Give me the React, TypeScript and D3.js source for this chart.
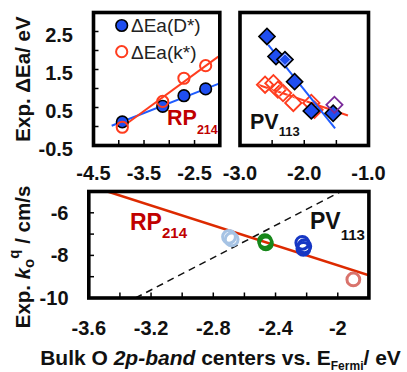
import React from "react";
import * as d3 from "d3";

// panel (a): RP214, ΔEa vs O 2p-band centre
const rpX = [-3.93, -3.13, -2.71, -2.28];
const rpDstar = [0.12, 0.53, 0.81, 0.99];
const rpKstar = [-0.02, 0.66, 1.27, 1.6];
const rpFitD = [[-4.14, 0.02], [-2.03, 1.12]];
const rpFitK = [[-3.94, -0.02], [-2.03, 1.84]];

// panel (b): PV113
const pvDX = [-2.58, -2.44, -2.3, -2.15, -1.89, -1.55];
const pvDY = [2.37, 1.84, 1.76, 1.18, 0.41, 0.35];
const pvKX = [-2.61, -2.48, -2.41, -2.33, -2.17, -1.89, -1.84];
const pvKY = [1.1, 1.14, 0.97, 0.88, 0.62, 0.62, 0.44];
const pvExtraX = [-1.53];
const pvExtraY = [0.57];
const pvFitD = [[-2.56, 2.15], [-1.52, -0.05]];
const pvFitK = [[-2.72, 1.1], [-1.32, 0.29]];

// panel (c): k_o^q
const kqX = [-2.699, -2.682, -2.468, -2.462, -2.228, -2.215, -2.221, -1.9];
const kqY = [-7.13, -7.25, -7.33, -7.44, -7.41, -7.57, -7.69, -9.13];
const kqGroup = ["lb", "lb", "gr", "gr", "db", "db", "db", "sa"];
const kqFitRP = [[-3.48, -5.0], [-1.8, -8.93]];
const kqFitPV = [[-3.3, -10], [-1.98, -5]];

const topYTicks = [0, 0.5, 1, 1.5, 2, 2.5];
const topYLabels = [2.5, 1.5, 0.5, -0.5];
const aXTicks = [-4, -3.5, -3, -2.5];
const aXLabels = [-4.5, -3.5, -2.5];
const bXTicks = [-2.5, -2, -1.5];
const bXLabels = [-3, -2, -1];
const cXTicks = [-3.4, -3.2, -3.0, -2.8, -2.6, -2.4, -2.2, -2.0];
const cXLabels = [-3.6, -3.2, -2.8, -2.4, -2];
const cYTicks = [-9, -8, -7, -6];
const cYLabels = [-6, -8, -10];

const FONT = "'Liberation Sans', Arial, Helvetica, sans-serif";
const groupColor: Record<string, string> = {
  lb: "#a6c3e4",
  gr: "#17871a",
  db: "#1637c4",
  sa: "#d9736c",
};

export default function App() {
  const yTop = d3.scaleLinear().domain([-0.5, 3.0]).range([145.5, 12.5]);
  const xA = d3.scaleLinear().domain([-4.5, -2.0]).range([93.5, 219.8]);
  const xB = d3.scaleLinear().domain([-3, -1]).range([240, 368.5]);
  const xC = d3.scaleLinear().domain([-3.6, -1.8]).range([88.8, 368.9]);
  const yC = d3.scaleLinear().domain([-10, -5]).range([298, 191.5]);

  const diamond = d3.symbol().type(d3.symbolSquare).size(130)();
  const line = (pts: number[][], sx: any, sy: any) =>
    d3.line()(pts.map((p) => [sx(p[0]), sy(p[1])]) as [number, number][]) || "";

  const frame = (x0: number, x1: number, y0: number, y1: number) => (
    <rect x={x0} y={y0} width={x1 - x0} height={y1 - y0} fill="none" stroke="#000" strokeWidth={3.6} />
  );

  const tickText = { fontFamily: FONT, fontWeight: 700, fontSize: 20, fill: "#111" } as const;

  return (
    <svg width={407} height={372} style={{ position: "absolute", left: 0, top: 0, background: "#fff" }}>
      <defs>
        <clipPath id="clipA"><rect x={93.5} y={12.5} width={126.3} height={133} /></clipPath>
        <clipPath id="clipB"><rect x={240} y={12.5} width={128.5} height={133} /></clipPath>
        <clipPath id="clipC"><rect x={88.8} y={191.5} width={280.1} height={106.5} /></clipPath>
      </defs>

      {/* ---------- panel a ---------- */}
      <g clipPath="url(#clipA)">
        <path d={line(rpFitD, xA, yTop)} stroke="#1f5cff" strokeWidth={2} fill="none" />
        <path d={line(rpFitK, xA, yTop)} stroke="#ff3d1f" strokeWidth={2} fill="none" />
        {rpX.map((x, i) => (
          <circle key={"d" + i} cx={xA(x)} cy={yTop(rpDstar[i])} r={5.8} fill="#1f4ef0" stroke="#000" strokeWidth={1.6} />
        ))}
        {rpX.map((x, i) => (
          <circle key={"k" + i} cx={xA(x)} cy={yTop(rpKstar[i])} r={5.6} fill="none" stroke="#ff3d1f" strokeWidth={2} />
        ))}
      </g>
      {topYTicks.map((t) => (
        <line key={t} x1={93.5} x2={98.5} y1={yTop(t)} y2={yTop(t)} stroke="#000" strokeWidth={1.5} />
      ))}
      {aXTicks.map((t) => (
        <line key={t} x1={xA(t)} x2={xA(t)} y1={145.5} y2={140} stroke="#000" strokeWidth={1.5} />
      ))}
      {frame(93.5, 219.8, 12.5, 145.5)}
      {topYLabels.map((t) => (
        <text key={t} x={73} y={yTop(t) + 10} textAnchor="end" {...tickText}>{t.toFixed(1)}</text>
      ))}
      {aXLabels.map((t) => (
        <text key={t} x={xA(t)} y={180} textAnchor="middle" {...tickText}>{t.toFixed(1)}</text>
      ))}

      {/* legend */}
      <circle cx={121.7} cy={25.5} r={5.8} fill="#1f4ef0" stroke="#000" strokeWidth={1.6} />
      <text x={131} y={32} fontFamily={FONT} fontSize={19} fill="#222">ΔEa(D*)</text>
      <circle cx={121.7} cy={51.7} r={5.6} fill="none" stroke="#ff3d1f" strokeWidth={2} />
      <text x={131} y={58.5} fontFamily={FONT} fontSize={19} fill="#222">ΔEa(k*)</text>

      <text x={167} y={125} fontFamily={FONT} fontWeight={700} fontSize={21.5} fill="#c00000">
        RP<tspan fontSize={12.5} dy={9}>214</tspan>
      </text>

      {/* ---------- panel b ---------- */}
      <g clipPath="url(#clipB)">
        <path d={line(pvFitK, xB, yTop)} stroke="#ff3d1f" strokeWidth={2} fill="none" />
        {pvKX.map((x, i) => (
          <g key={"k" + i} transform={`translate(${xB(x)},${yTop(pvKY[i])}) rotate(45)`}>
            <path d={diamond} fill="none" stroke="#ff3d1f" strokeWidth={2} />
            <path d={diamond} fill="none" stroke="#fff" strokeWidth={0.6} transform="scale(0.8)" />
          </g>
        ))}
        <path d={line(pvFitD, xB, yTop)} stroke="#1f5cff" strokeWidth={2} fill="none" />
        {pvDX.map((x, i) => (
          <g key={"d" + i} transform={`translate(${xB(x)},${yTop(pvDY[i])}) rotate(45)`}>
            <path d={diamond} fill="#1f4ef0" stroke="#000" strokeWidth={1.6} />
            {i === 2 && <path d={diamond} fill="none" stroke="#fff" strokeWidth={1} transform="scale(0.72)" />}
          </g>
        ))}
        {pvExtraX.map((x, i) => (
          <g key={"e" + i} transform={`translate(${xB(x)},${yTop(pvExtraY[i])}) rotate(45)`}>
            <path d={diamond} fill="none" stroke="#7a2a9a" strokeWidth={1.8} />
          </g>
        ))}
      </g>
      {bXTicks.map((t) => (
        <line key={t} x1={xB(t)} x2={xB(t)} y1={145.5} y2={140} stroke="#000" strokeWidth={1.5} />
      ))}
      {frame(240, 368.5, 12.5, 145.5)}
      {bXLabels.map((t) => (
        <text key={t} x={xB(t)} y={180} textAnchor="middle" {...tickText}>{t.toFixed(1)}</text>
      ))}
      <text x={250} y={128.5} fontFamily={FONT} fontWeight={700} fontSize={21.5} fill="#111">
        PV<tspan fontSize={13} dy={7}>113</tspan>
      </text>

      {/* ---------- panel c ---------- */}
      <g clipPath="url(#clipC)">
        <path d={line(kqFitPV, xC, yC)} stroke="#111" strokeWidth={1.5} strokeDasharray="7,5" fill="none" />
        <path d={line(kqFitRP, xC, yC)} stroke="#dd2a00" strokeWidth={2.5} fill="none" />
        {kqX.map((x, i) => (
          <circle key={i} cx={xC(x)} cy={yC(kqY[i])} r={6.4} fill="none" stroke={groupColor[kqGroup[i]]} strokeWidth={3} />
        ))}
      </g>
      {cYTicks.map((t) => (
        <line key={t} x1={88.8} x2={94} y1={yC(t)} y2={yC(t)} stroke="#000" strokeWidth={1.5} />
      ))}
      {cXTicks.map((t) => (
        <line key={t} x1={xC(t)} x2={xC(t)} y1={298} y2={292.5} stroke="#000" strokeWidth={1.5} />
      ))}
      {frame(88.8, 368.9, 191.5, 298)}
      {cYLabels.map((t) => (
        <text key={t} x={68.5} y={yC(t) + 7} textAnchor="end" {...tickText}>{String(t)}</text>
      ))}
      {cXLabels.map((t) => (
        <text key={t} x={xC(t)} y={335} textAnchor="middle" {...tickText}>{String(t)}</text>
      ))}
      <text x={130} y={230} fontFamily={FONT} fontWeight={700} fontSize={23} fill="#c00000">
        RP<tspan fontSize={15} dy={8}>214</tspan>
      </text>
      <text x={310} y={228.5} fontFamily={FONT} fontWeight={700} fontSize={23} fill="#111">
        PV<tspan fontSize={15} dy={11}>113</tspan>
      </text>

      {/* axis titles */}
      <text transform="translate(30,79) rotate(-90)" textAnchor="middle" fontFamily={FONT} fontWeight={700} fontSize={20.5} fill="#111">
        Exp. ΔEa/ eV
      </text>
      <text transform="translate(30,257) rotate(-90)" textAnchor="middle" fontFamily={FONT} fontWeight={700} fontSize={20.5} fill="#111">
        Exp. <tspan fontStyle="italic">k</tspan>
        <tspan fontSize={15} dy={4}>o</tspan>
        <tspan fontSize={15} dy={-15}>q</tspan>
        <tspan dy={11}> / cm/s</tspan>
      </text>
      <text x={220.5} y={365} textAnchor="middle" fontFamily={FONT} fontWeight={700} fontSize={21} fill="#111">
        Bulk O <tspan fontStyle="italic">2p-band</tspan> centers vs. E<tspan fontSize={12} dy={5}>Fermi</tspan>
        <tspan dy={-5}>/ eV</tspan>
      </text>
    </svg>
  );
}
